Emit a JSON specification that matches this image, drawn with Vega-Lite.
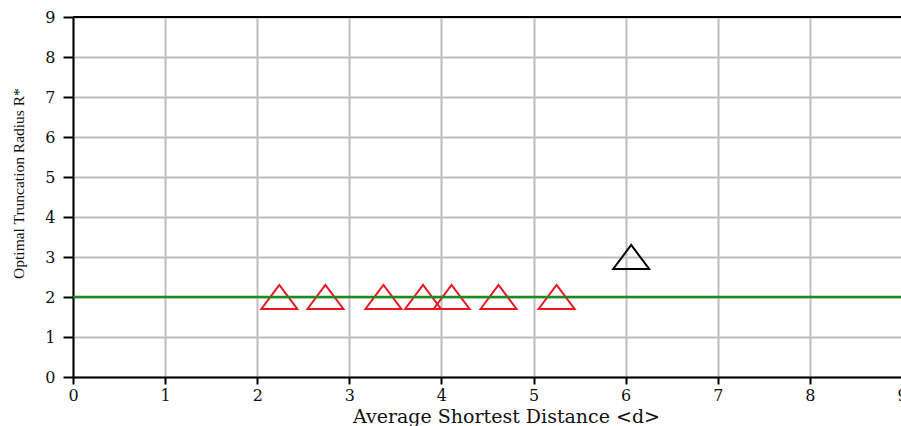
{
  "$schema": "https://vega.github.io/schema/vega-lite/v6.json",
  "width": 829,
  "height": 360,
  "autosize": {"type": "none"},
  "padding": {"left": 73, "top": 17, "right": 0, "bottom": 49},
  "background": "white",
  "config": {
    "view": {"stroke": null},
    "font": "DejaVu Serif",
    "axis": {
      "labelFont": "DejaVu Serif",
      "titleFont": "DejaVu Serif",
      "labelFontSize": 16,
      "labelColor": "#111",
      "titleColor": "#111",
      "titleFontWeight": "normal",
      "domainColor": "#000",
      "domainWidth": 2,
      "tickColor": "#000",
      "tickWidth": 2,
      "gridColor": "#bdbdbd",
      "gridWidth": 2,
      "gridOpacity": 1,
      "labelOverlap": false
    }
  },
  "encoding": {
    "y": {
      "field": "R",
      "type": "quantitative",
      "scale": {"domain": [0, 9], "nice": false},
      "axis": {
        "title": "Optimal Truncation Radius R*",
        "titleFont": "Liberation Serif",
        "titleFontSize": 15.5,
        "titlePadding": 18,
        "titleY": 166,
        "labelFontSize": 16,
        "values": [0, 1, 2, 3, 4, 5, 6, 7, 8, 9],
        "tickSize": 10,
        "labelPadding": 8,
        "labelFlush": false,
        "labelOverlap": false
      }
    }
  },
  "layer": [
    {
      "data": {
        "values": [
          {"d": 2.24, "R": 2, "group": "A"},
          {"d": 2.74, "R": 2, "group": "A"},
          {"d": 3.37, "R": 2, "group": "A"},
          {"d": 3.80, "R": 2, "group": "A"},
          {"d": 4.11, "R": 2, "group": "A"},
          {"d": 4.62, "R": 2, "group": "A"},
          {"d": 5.25, "R": 2, "group": "A"},
          {"d": 6.06, "R": 3, "group": "B"}
        ]
      },
      "mark": {
        "type": "point",
        "shape": "M -1 0.667 L 0 -0.667 L 1 0.667 Z",
        "size": 1296,
        "filled": false,
        "strokeWidth": 2,
        "opacity": 1
      },
      "encoding": {
        "x": {
          "field": "d",
          "type": "quantitative",
          "scale": {"domain": [0, 9], "nice": false},
          "axis": {
            "title": "Average Shortest Distance <d>",
            "titleFontSize": 19,
            "titlePadding": 4,
            "titleX": 433,
            "labelFontSize": 16,
            "values": [0, 1, 2, 3, 4, 5, 6, 7, 8, 9],
            "tickSize": 7,
            "labelPadding": 3,
            "labelFlush": false,
            "labelOverlap": false
          }
        },
        "color": {
          "field": "group",
          "type": "nominal",
          "scale": {"domain": ["A", "B"], "range": ["#e8161e", "#000000"]},
          "legend": null
        }
      }
    },
    {
      "data": {"values": [{"R": 2}]},
      "mark": {"type": "rule", "color": "#1e8a1e", "strokeWidth": 2.5},
      "encoding": {}
    },
    {
      "data": {"values": [{"R": 9}]},
      "mark": {"type": "rule", "color": "#000", "strokeWidth": 2},
      "encoding": {}
    }
  ]
}
